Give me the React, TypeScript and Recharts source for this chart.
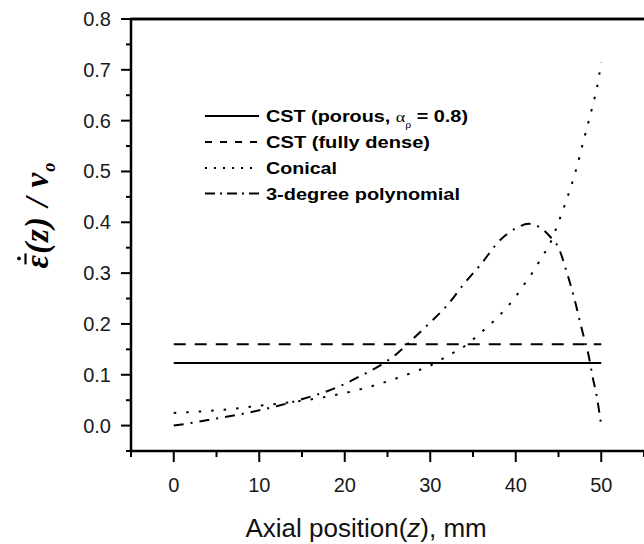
import { LineChart, Line, XAxis, YAxis, ReferenceLine } from 'recharts';

// axis ticks (majors get labels, the others are minor ticks)
const X_TICKS = [-5, 0, 5, 10, 15, 20, 25, 30, 35, 40, 45, 50, 55];
const Y_TICKS = [-0.05, 0, 0.05, 0.1, 0.15, 0.2, 0.25, 0.3, 0.35, 0.4, 0.45, 0.5, 0.55, 0.6, 0.65, 0.7, 0.75, 0.8];
const Y_MAX = 0.8;

// CST profiles are flat along the die
const CST_Z = [0, 50];
const POROUS_V = [0.123, 0.123];
const DENSE_V = [0.16, 0.16];

// conical die
const CONICAL_Z = [0, 5, 10, 15, 20, 25, 28, 30, 32, 34, 36, 38, 40, 41, 42, 43, 44, 45, 46, 47, 48, 49, 49.5, 50];
const CONICAL_V = [0.025, 0.03, 0.039, 0.049, 0.064, 0.087, 0.105, 0.118, 0.137, 0.156, 0.184, 0.215, 0.254, 0.278, 0.302, 0.33, 0.358, 0.4, 0.447, 0.5, 0.565, 0.63, 0.665, 0.715];

// 3-degree polynomial die
const POLY_Z = [0, 2, 4, 6, 8, 10, 12, 14, 16, 18, 20, 22, 24, 26, 28, 30, 32, 34, 36, 38, 40, 41.5, 43, 44, 45, 46, 47, 47.5, 48, 48.5, 49, 49.5, 50];
const POLY_V = [0, 0.005, 0.011, 0.017, 0.023, 0.03, 0.038, 0.047, 0.057, 0.068, 0.082, 0.099, 0.117, 0.14, 0.171, 0.203, 0.237, 0.28, 0.319, 0.362, 0.388, 0.397, 0.388, 0.372, 0.35, 0.3, 0.24, 0.205, 0.172, 0.14, 0.095, 0.055, 0];

const LEGEND_LABELS = ['CST (fully dense)', 'Conical', '3-degree polynomial'];

const toPoints = (zs: number[], vs: number[]) => zs.map((z, i) => ({ z, v: vs[i] }));

const SERIES = [
  { key: 'porous', data: toPoints(CST_Z, POROUS_V), dash: undefined, legendDash: undefined },
  { key: 'dense', data: toPoints(CST_Z, DENSE_V), dash: '12 9', legendDash: '7 8' },
  { key: 'conical', data: toPoints(CONICAL_Z, CONICAL_V), dash: '2.5 10', legendDash: '2 7' },
  { key: 'poly', data: toPoints(POLY_Z, POLY_V), dash: '10 7 2 7', legendDash: '10 5 2 5' },
];

const SANS = '"Liberation Sans", Arial, sans-serif';
const SERIF = '"Liberation Serif", "Times New Roman", serif';

function XTick({ x, y, payload }: any) {
  const v = payload.value;
  const major = v % 10 === 0;
  return (
    <g>
      <line x1={x} y1={y} x2={x} y2={y + (major ? 11 : 6)} stroke="#000" strokeWidth={2} />
      {major && (
        <text x={x} y={y + 41} textAnchor="middle" fontSize={20} fontFamily={SANS} fill="#1a1a1a">
          {v}
        </text>
      )}
    </g>
  );
}

function YTick({ x, y, payload }: any) {
  const v = payload.value;
  const major = Math.abs(Math.round(v * 100)) % 10 === 0;
  return (
    <g>
      <line x1={x} y1={y} x2={x - (major ? 10 : 5)} y2={y} stroke="#000" strokeWidth={2} />
      {major && (
        <text x={x - 20} y={y + 7} textAnchor="end" fontSize={20} fontFamily={SANS} fill="#1a1a1a">
          {v.toFixed(1)}
        </text>
      )}
    </g>
  );
}

const xTitle = ({ viewBox }: any) => (
  <text
    x={viewBox.x + (viewBox.width * 27.5) / 60}
    y={viewBox.y + 86}
    textAnchor="middle"
    fontSize={26}
    fontFamily={SANS}
    fill="#111"
  >
    Axial position(<tspan fontStyle="italic">z</tspan>), mm
  </text>
);

// rotated label; macron and dot over the epsilon are drawn as small shapes
const yTitle = ({ viewBox }: any) => {
  const cx = viewBox.x + 48;
  const cy = viewBox.y + viewBox.height * 0.45;
  return (
    <g transform={`translate(${cx}, ${cy}) rotate(-90)`}>
      <text
        x={-55}
        y={0}
        fontSize={33}
        fontWeight="bold"
        fontStyle="italic"
        fontFamily={SERIF}
        fill="#000"
        letterSpacing={1}
      >
        {'\u03B5(z) / v'}
        <tspan fontSize={18} dy={7} fill="#000">o</tspan>
      </text>
      <line x1={-51} x2={-40} y1={-22.5} y2={-22.5} stroke="#000" strokeWidth={2.2} />
      <circle cx={-45} cy={-29} r={1.9} fill="#000" />
    </g>
  );
};

function Overlay() {
  const rows = [116, 142, 168, 193.5];
  const lengths = [202, 164, 71, 194];
  return (
    <svg width={644} height={544} style={{ position: 'absolute', left: 0, top: 0, pointerEvents: 'none' }}>
      {/* top frame edge */}
      <line x1={130} x2={644} y1={19} y2={19} stroke="#000" strokeWidth={2.5} />
      {SERIES.map((s, i) => (
        <g key={s.key}>
          <line x1={205} x2={259} y1={rows[i]} y2={rows[i]} stroke="#000" strokeWidth={2} strokeDasharray={s.legendDash} />
          <text
            x={266}
            y={rows[i] + 6}
            fontSize={16.5}
            fontWeight="bold"
            fontFamily={SANS}
            fill="#000"
            textLength={lengths[i]}
            lengthAdjust="spacingAndGlyphs"
          >
            {i === 0 ? (
              <>
                CST (porous,{' '}
                <tspan fontFamily={SERIF} fontWeight="normal" fontSize={15} fill="#000">α</tspan>
                <tspan fontFamily={SERIF} fontWeight="normal" fontSize={10} dy={6} fill="#000">ρ</tspan>
                <tspan dy={-6} fill="#000"> = 0.8)</tspan>
              </>
            ) : (
              LEGEND_LABELS[i - 1]
            )}
          </text>
        </g>
      ))}
    </svg>
  );
}

export default function App() {
  return (
    <div style={{ position: 'relative', width: 644, height: 544, background: '#fff' }}>
      <style>{'body{margin:0;overflow:hidden;background:#fff}'}</style>
      <LineChart width={644} height={544} margin={{ top: 19, right: 0, bottom: 0, left: 0 }}>
        <XAxis
          dataKey="z"
          type="number"
          domain={[-5, 55]}
          ticks={X_TICKS}
          interval={0}
          height={93}
          tickSize={0}
          tickMargin={0}
          tickLine={false}
          tick={<XTick />}
          axisLine={{ stroke: '#000', strokeWidth: 2.5 }}
          label={{ content: xTitle }}
          allowDataOverflow
        />
        <YAxis
          type="number"
          domain={[-0.05, Y_MAX]}
          ticks={Y_TICKS}
          interval={0}
          width={131}
          tickSize={0}
          tickMargin={0}
          tickLine={false}
          tick={<YTick />}
          axisLine={{ stroke: '#000', strokeWidth: 2.5 }}
          label={{ content: yTitle }}
          allowDataOverflow
        />
        <ReferenceLine y={Y_MAX} stroke="#000" strokeWidth={2.5} ifOverflow="visible" />
        {SERIES.map((s) => (
          <Line
            key={s.key}
            data={s.data}
            dataKey="v"
            type="monotone"
            stroke="#000"
            strokeWidth={2}
            strokeDasharray={s.dash}
            dot={false}
            activeDot={false}
            isAnimationActive={false}
          />
        ))}
      </LineChart>
      <Overlay />
    </div>
  );
}
